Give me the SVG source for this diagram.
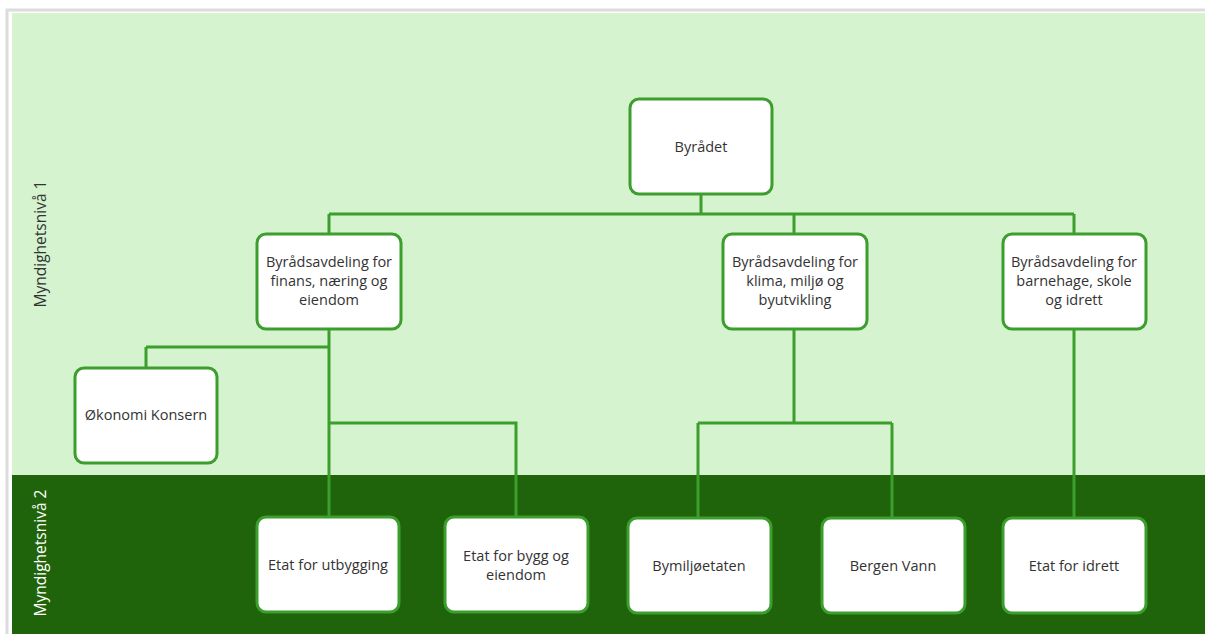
<svg xmlns="http://www.w3.org/2000/svg" width="1205" height="634" viewBox="0 0 1205 634">
<style>
.node rect{fill:#fff;stroke:#3c9e2c;stroke-width:3}
.node text{font-family:"Open Sans","Liberation Sans",sans-serif;font-size:14.5px;fill:#333;text-anchor:middle}
.conn{fill:none;stroke:#3c9e2c;stroke-width:3}
.lvl{font-family:"Open Sans","Liberation Sans",sans-serif;font-size:15.5px;text-anchor:middle}
</style>
<rect x="0" y="0" width="1205" height="634" fill="#fff"/>
<path d="M7,634 V10 H1205" fill="none" stroke="#dcdcdc" stroke-width="3"/>
<rect x="12" y="13" width="1193" height="462" fill="#d5f3cf"/>
<rect x="12" y="475" width="1193" height="159" fill="#1f640a"/>
<text class="lvl" transform="translate(46,244) rotate(-90)" fill="#333">Myndighetsnivå 1</text>
<text class="lvl" transform="translate(46,553) rotate(-90)" fill="#fff">Myndighetsnivå 2</text>
<g id="connectors">
<path class="conn" d="M701,195 V214 M329,214 H1074 M329,214 V233 M794,214 V233 M1074,214 V233"/>
<path class="conn" d="M329,329 V517 M146,347 H329 M146,347 V367 M329,423 H516 V517"/>
<path class="conn" d="M794,329 V423 M698,423 H892 M698,423 V517 M892,423 V517"/>
<path class="conn" d="M1074,329 V517"/>
</g>
<g id="byradet" class="node"><rect x="630" y="99" width="142" height="95" rx="9"/><text x="701" y="152">Byrådet</text></g>
<g id="finans" class="node"><rect x="257" y="234" width="144" height="95" rx="9"/><text x="329" y="267">Byrådsavdeling for</text><text x="329" y="286">finans, næring og</text><text x="329" y="305">eiendom</text></g>
<g id="klima" class="node"><rect x="723" y="234" width="144" height="95" rx="9"/><text x="795" y="267">Byrådsavdeling for</text><text x="795" y="286">klima, miljø og</text><text x="795" y="305">byutvikling</text></g>
<g id="barnehage" class="node"><rect x="1003" y="234" width="143" height="95" rx="9"/><text x="1074" y="267">Byrådsavdeling for</text><text x="1074" y="286">barnehage, skole</text><text x="1074" y="305">og idrett</text></g>
<g id="okonomi" class="node"><rect x="75" y="368" width="142" height="95" rx="9"/><text x="146" y="420">Økonomi Konsern</text></g>
<g id="utbygging" class="node"><rect x="257" y="517" width="142" height="95" rx="9"/><text x="328" y="570">Etat for utbygging</text></g>
<g id="bygg" class="node"><rect x="445" y="517" width="143" height="95" rx="9"/><text x="516" y="561">Etat for bygg og</text><text x="516" y="580">eiendom</text></g>
<g id="bymiljo" class="node"><rect x="628" y="518" width="143" height="95" rx="9"/><text x="699" y="571">Bymiljøetaten</text></g>
<g id="bergenvann" class="node"><rect x="822" y="518" width="143" height="95" rx="9"/><text x="893" y="571">Bergen Vann</text></g>
<g id="idrett" class="node"><rect x="1003" y="518" width="143" height="95" rx="9"/><text x="1074" y="571">Etat for idrett</text></g>
</svg>
